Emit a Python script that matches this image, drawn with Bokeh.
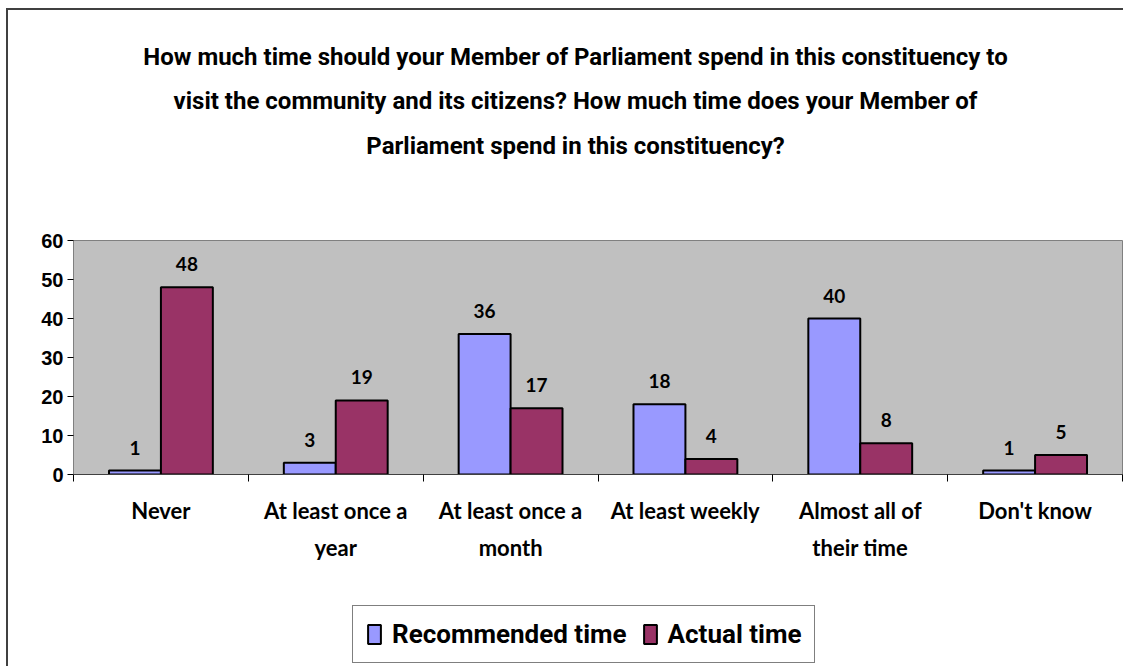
from bokeh.plotting import figure
from bokeh.layouts import column
from bokeh.models import (Range1d, FixedTicker, Legend, LegendItem, Label,
                          ColumnDataSource, LabelSet)
from bokeh.core.properties import value
from bokeh.embed import file_html
from bokeh.resources import INLINE

# ---- data ----
title_lines = [
    "How much time should your Member of Parliament spend in this constituency to",
    "visit the community and its citizens? How much time does your Member of",
    "Parliament spend in this constituency?",
]
categories = ["Never", "At least once a year", "At least once a month",
              "At least weekly", "Almost all of their time", "Don't know"]
tick_labels = ["Never", "At least once a\nyear", "At least once a\nmonth",
               "At least weekly", "Almost all of\ntheir time", "Don't know"]
recommended = [1, 3, 36, 18, 40, 1]
actual = [48, 19, 17, 4, 8, 5]
series_names = ["Recommended time", "Actual time"]
y_ticks = [0, 10, 20, 30, 40, 50, 60]

# ---- styling ----
TITLE_FONT = "Roboto"
AXIS_FONT = "Liberation Sans"
GEO = "Lato"
C_REC = "#9999FF"
C_ACT = "#993366"
BAR_W = 0.297
OFF = BAR_W / 2
W = 1115
FRAME_LEFT = 73          # page x of the plot frame's left edge
ORIGIN_X, ORIGIN_Y = 8, 10


def blank(height):
    f = figure(width=W, height=height, output_backend="svg", toolbar_location=None,
               x_axis_type=None, y_axis_type=None, min_border=0,
               x_range=Range1d(0, 1), y_range=Range1d(0, 1))
    f.title = None
    f.outline_line_color = None
    f.background_fill_color = "white"
    f.border_fill_color = "white"
    f.xgrid.visible = False
    f.ygrid.visible = False
    return f


# ---- title block ----
TH = 190
tfig = blank(TH)
for line, cy in zip(title_lines, [58, 102, 147]):
    tfig.add_layout(Label(x=575 - FRAME_LEFT, y=TH - (cy - ORIGIN_Y) + 2,
                          x_units="screen", y_units="screen",
                          text=line, text_align="center", text_baseline="middle",
                          text_font=TITLE_FONT, text_font_style="bold",
                          text_font_size="24px", text_color="black"))

# ---- chart ----
n = len(categories)
centers = [i + 0.5 for i in range(n)]
src = ColumnDataSource(dict(
    x_rec=[c - OFF for c in centers], x_act=[c + OFF for c in centers],
    rec=recommended, act=actual,
    rec_lbl=[str(v) for v in recommended], act_lbl=[str(v) for v in actual],
))

CH = 390
chart_top = ORIGIN_Y + TH
p = figure(width=W, height=CH, output_backend="svg", toolbar_location=None,
           x_range=Range1d(0, n), y_range=Range1d(y_ticks[0], y_ticks[-1]),
           min_border_left=FRAME_LEFT - ORIGIN_X, min_border_right=1,
           min_border_top=240 - chart_top,
           min_border_bottom=CH - (474 - chart_top))
p.title = None
p.background_fill_color = "#C0C0C0"
p.border_fill_color = "white"
p.outline_line_color = "#808080"
p.outline_line_width = 1
p.xgrid.visible = False
p.ygrid.visible = False

p.vbar(x="x_rec", top="rec", width=BAR_W, source=src,
       fill_color=C_REC, line_color="black", line_width=2)
p.vbar(x="x_act", top="act", width=BAR_W, source=src,
       fill_color=C_ACT, line_color="black", line_width=2)

for xcol, ycol, tcol in (("x_rec", "rec", "rec_lbl"), ("x_act", "act", "act_lbl")):
    p.add_layout(LabelSet(x=xcol, y=ycol, text=tcol, source=src, y_offset=16,
                          text_align="center", text_baseline="alphabetic",
                          text_font=value(GEO), text_font_style="bold",
                          text_font_size="19px", text_color="black"))

ya = p.yaxis[0]
ya.ticker = FixedTicker(ticks=y_ticks)
ya.major_label_text_font = AXIS_FONT
ya.major_label_text_font_style = "bold"
ya.major_label_text_font_size = "20px"
ya.major_label_text_color = "black"
ya.major_tick_in = 0
ya.major_tick_out = 6
ya.major_tick_line_color = "black"
ya.minor_tick_line_color = None
ya.axis_line_color = "#808080"
ya.major_label_standoff = 4

xa = p.xaxis[0]
xa.ticker = FixedTicker(ticks=centers, minor_ticks=list(range(n + 1)))
xa.major_label_overrides = {c: lbl for c, lbl in zip(centers, tick_labels)}
xa.major_tick_line_color = None
xa.minor_tick_in = 0
xa.minor_tick_out = 7
xa.minor_tick_line_color = "black"
xa.axis_line_color = "#404040"
xa.major_label_text_font = GEO
xa.major_label_text_font_style = "bold"
xa.major_label_text_font_size = "22px"
xa.major_label_text_color = "black"
xa.major_label_text_line_height = 1.4
xa.major_label_standoff = 15

# ---- legend block ----
LH = 76
lfig = blank(LH)
# swatch renderers for the legend only: hidden, and tucked behind the legend box
sw_src = ColumnDataSource(dict(x=[0.5], top=[0.5], bottom=[0.45]))
g_rec = lfig.vbar(x="x", top="top", bottom="bottom", width=0.005, source=sw_src,
                  fill_color=C_REC, line_color="black", line_width=2,
                  visible=False)
g_act = lfig.vbar(x="x", top="top", bottom="bottom", width=0.005, source=sw_src,
                  fill_color=C_ACT, line_color="black", line_width=2,
                  visible=False)
legend_bottom = ORIGIN_Y + TH + CH + LH - 663
legend = Legend(items=[LegendItem(label=series_names[0], renderers=[g_rec]),
                       LegendItem(label=series_names[1], renderers=[g_act])],
                orientation="horizontal", location=(352 - FRAME_LEFT, legend_bottom),
                border_line_color="black", border_line_width=1,
                background_fill_color="white", background_fill_alpha=1,
                label_text_font=TITLE_FONT, label_text_font_style="bold",
                label_text_font_size="26px", label_text_color="black",
                glyph_width=16, glyph_height=24, click_policy="none",
                inactive_fill_alpha=0,
                label_standoff=10, spacing=15, padding=13, margin=0)
lfig.add_layout(legend, "center")

page = column(tfig, p, lfig, spacing=0,
              styles={"margin-left": "6px", "margin-top": "8px",
                      "border-left": "2px solid #404040",
                      "border-top": "2px solid #404040"})

open("out.html", "w").write(file_html(page, INLINE))
